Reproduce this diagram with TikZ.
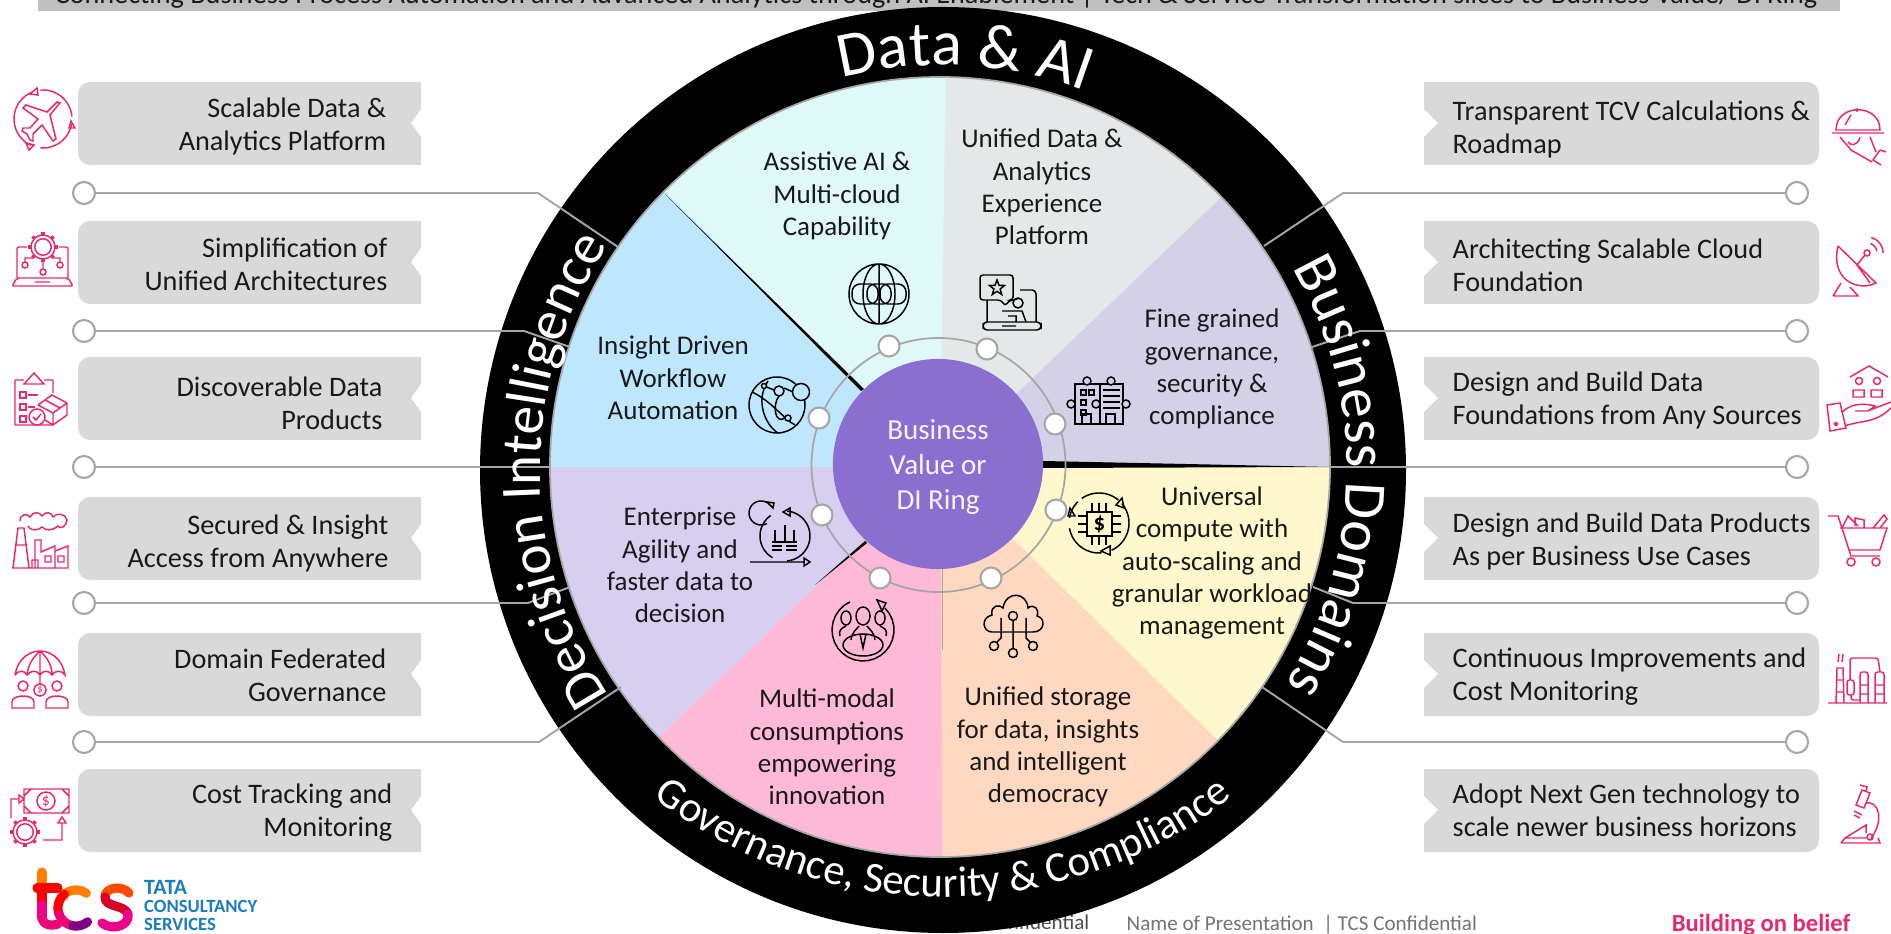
\documentclass[tikz,border=0pt]{standalone}
\usepackage{fontspec}
\setmainfont{Carlito}
\usetikzlibrary{decorations.text}
\definecolor{barGray}{HTML}{BFBFBF}
\definecolor{boxGray}{HTML}{D9D9D9}
\definecolor{lineGray}{HTML}{A6A6A6}
\definecolor{iconPink}{HTML}{E8286E}
\definecolor{hubPurple}{HTML}{8B6FD0}
\definecolor{secCyan}{HTML}{DFF9F9}
\definecolor{secGrey}{HTML}{E4E8E9}
\definecolor{secLav}{HTML}{D4D0E8}
\definecolor{secYellow}{HTML}{FEF8CC}
\definecolor{secPeach}{HTML}{FFD8C2}
\definecolor{secPink}{HTML}{FEB9D6}
\definecolor{secLilac}{HTML}{D8CEF0}
\definecolor{secBlue}{HTML}{BEE6FD}
\definecolor{tcsBlue}{HTML}{1C7CC0}
\newcommand{\boxfont}{\fontsize{8.03}{9.39}\selectfont}
\newcommand{\secfont}{\fontsize{7.68}{9.2}\selectfont}
% arc by centre, radius and two angles
\newcommand{\arcat}[6][icn]{\draw[#1] plot[domain=#5:#6,samples=24] ({#2+#4*cos(\x)},{#3-#4*sin(\x)});}
\newcommand{\gearat}[4][pnk]{%
  \draw[#1] (#2,#3) circle[radius=#4*.55] (#2,#3) circle[radius=#4*.8];
  \foreach \a in {0,45,...,315}
    \draw[#1,line width=1pt] ({#2+#4*.8*cos(\a)},{#3-#4*.8*sin(\a)}) -- ({#2+#4*cos(\a)},{#3-#4*sin(\a)});}

\begin{document}
\begin{tikzpicture}[x=.01cm,y=-.01cm,
 icn/.style = {draw=black,line width=.42pt},
 pnk/.style = {draw=iconPink,line width=.42pt},
 boxtext/.style = {font=\boxfont,text=black!90,inner sep=0pt},
 lefttext/.style = {boxtext,align=right,anchor=east},
 righttext/.style = {boxtext,align=left,anchor=west},
 sectext/.style = {font=\secfont,text=black!90,align=center,inner sep=0pt},
 endpt/.style = {circle,draw=lineGray,line width=.6pt,fill=white,minimum size=2.2mm,inner sep=0pt},
 dot/.style = {circle,draw=lineGray,line width=.6pt,fill=white,minimum size=2.1mm,inner sep=0pt},
 leader/.style = {draw=lineGray,line width=.55pt},
 hubdisc/.style = {circle,fill=hubPurple,text=white!92!hubPurple,minimum size=2.1cm,inner sep=0pt,align=center,
      font=\fontsize{8.25}{9.96}\selectfont},
 ringtext/.style args = {#1/#2}{decorate,decoration={text along path,text align=center,
      text={|\fontsize{#1}{#1}\selectfont\color{white}|#2}}}
                    ]
\useasboundingbox (0,0) rectangle (1891,934);
% top bar and footer
\fill[barGray] (38,0) rectangle (1840,11);
\node(title) [anchor=base west,inner sep=0pt,font=\fontsize{8.02}{9}\selectfont,text=black!90] at (54,4)
  {Connecting Business Process Automation and Advanced Analytics through AI Enablement | Tech \& Service Transformation slices to Business Value/ DI Ring};
\node(footHidden) [anchor=east,inner sep=0pt,font=\fontsize{6}{7}\selectfont,text=black!70] at (1090,922) {TCS Confidential};
\node(footName) [anchor=west,inner sep=0pt,font=\fontsize{6}{7}\selectfont,text=black!55] at (1126,925) {Name of Presentation\ \ | TCS Confidential};
\node(footBelief) [anchor=east,inner sep=0pt,font=\fontsize{7}{8}\selectfont\bfseries,text=iconPink] at (1851,925) {Building on belief};
%
% ring and slices
\coordinate(ring) at (943,470);
\coordinate(pie) at (940,467);
\fill[black] (ring) circle[radius=463];
\coordinate(b0) at (947,0);
\coordinate(b1) at (1276,145);
\coordinate(b2) at (1400,467);
\coordinate(b3) at (1270,792);
\coordinate(b4) at (943,920);
\coordinate(b5) at (610,784);
\coordinate(b6) at (480,467);
\coordinate(b7) at (610,137);
\fill[secGrey] (pie) circle[radius=390];
\begin{scope}
\clip (pie) circle[radius=390];
\foreach \col/\a/\b in {secCyan/b7/b0,secGrey/b0/b1,secLav/b1/b2,secYellow/b2/b3,secPeach/b3/b4,secPink/b4/b5,secLilac/b5/b6,secBlue/b6/b7}
  \fill[\col] (pie) -- (\a) -- (\b) -- cycle;
\end{scope}
\draw[lineGray,line width=.5pt] (pie) circle[radius=390];
\fill[black] (665,194) -- (864,389) -- (861,391) -- cycle;
\fill[black] (1043,461) -- (1043,468) -- (1329,467) -- cycle;
\fill[black] (867,543) -- (865,541) -- (815,585) -- cycle;
\draw[lineGray,line width=.25pt] (942,569) -- (942,650);
%
% leader lines
\foreach \i/\y/\bx/\fx/\fy in {1/193/538/618/247,2/331/524/570/347,3/467/551/551/467,4/603/528/570/587,5/742/539/621/687}{
  \node(lend\i) [endpt] at (84,\y) {};
  \coordinate(lbend\i) at (\bx,\y);
  \coordinate(lfoot\i) at (\fx,\fy);
  \draw[leader] (lend\i) -- (lbend\i) -- (lfoot\i);
}
\foreach \i/\y/\bx/\fx/\fy in {1/193/1343/1264/246,2/331/1360/1312/347,3/467/1329/1329/467,4/603/1353/1313/587,5/742/1343/1262/687}{
  \node(rend\i) [endpt] at (1797,\y) {};
  \coordinate(rbend\i) at (\bx,\y);
  \coordinate(rfoot\i) at (\fx,\fy);
  \draw[leader] (rend\i) -- (rbend\i) -- (rfoot\i);
}
%
% ring labels
\path[ringtext=18.2/Data {\&} AI] plot[domain=147:27,samples=60] ({943+405*cos(\x)},{470-405*sin(\x)});
\path[ringtext=17.1/Business Domains] plot[domain=64:-66,samples=60] ({943+404*cos(\x)},{470-404*sin(\x)});
\path[ringtext=16.2/Decision Intelligence] plot[domain=245:115,samples=60] ({943+403*cos(\x)},{470-403*sin(\x)});
\path[ringtext=12.2/{Governance, Security {\&} Compliance}] plot[domain=220:320,samples=60] ({943+470*cos(\x)},{427-470*sin(\x)});
%
% hub
\draw[lineGray,line width=.5pt] (938.5,465) circle[radius=127];
\node(hub) [hubdisc] at (938,464) {};
\node(hubText) [font=\fontsize{8.25}{9.96}\selectfont,text=white!92!hubPurple,align=center,inner sep=0pt] at (938,467) {Business\\Value or\\DI Ring};
\foreach \i/\x/\y in {1/889/346,2/987/349,3/1055/424,4/1056/510,5/991/578,6/880/578,7/822/515,8/819/418}
  \node(hubdot\i) [dot] at (\x,\y) {};
%
% slice labels
\node(secAssist) [sectext] at (837,196) {Assistive AI \&\\Multi-cloud\\Capability};
\node(secUnified) [sectext] at (1042,187) {Unified Data \&\\Analytics\\Experience\\Platform};
\node(secFine) [sectext] at (1212,369) {Fine grained\\governance,\\security \&\\compliance};
\node(secCompute) [sectext] at (1212,563) {Universal\\compute with\\auto-scaling and\\granular workload\\management};
\node(secStorage) [sectext] at (1048,747) {Unified storage\\for data, insights\\and intelligent\\democracy};
\node(secModal) [sectext] at (827,747) {Multi-modal\\consumptions\\empowering\\innovation};
\node(secAgile) [sectext] at (680,565) {Enterprise\\Agility and\\faster data to\\decision};
\node(secInsight) [sectext] at (673,378) {Insight Driven\\Workflow\\Automation};
%
% grey boxes
\foreach \y in {82,221,357,497,633,769}{
  \fill[boxGray] (421,\y) [rounded corners=1.2mm] -- (78,\y) -- (78,\y+83) [sharp corners] -- (421,\y+83) -- (421,\y+55) -- (411,\y+41) -- (421,\y+27) -- cycle;
  \fill[boxGray] (1424,\y) [rounded corners=1.2mm] -- (1819,\y) -- (1819,\y+83) [sharp corners] -- (1424,\y+83) -- (1424,\y+55) -- (1438,\y+41) -- (1424,\y+27) -- cycle;
}
\node(boxL1) [lefttext] at (387,126) {Scalable Data \&\\Analytics Platform};
\node(boxL2) [lefttext] at (388,264) {Simplification of\\Unified Architectures};
\node(boxL3) [lefttext] at (383,403) {Discoverable Data\\Products};
\node(boxL4) [lefttext] at (389,543) {Secured \& Insight\\Access from Anywhere};
\node(boxL5) [lefttext] at (387,675) {Domain Federated\\Governance};
\node(boxL6) [lefttext] at (393,813) {Cost Tracking and\\Monitoring};
\node(boxR1) [righttext] at (1452,129) {Transparent TCV Calculations \&\\Roadmap};
\node(boxR2) [righttext] at (1452,265) {Architecting Scalable Cloud\\Foundation};
\node(boxR3) [righttext] at (1452,400) {Design and Build Data\\Foundations from Any Sources};
\node(boxR4) [righttext] at (1452,541) {Design and Build Data Products\\As per Business Use Cases};
\node(boxR5) [righttext] at (1452,677) {Continuous Improvements and\\Cost Monitoring};
\node(boxR6) [righttext] at (1452,810) {Adopt Next Gen technology to\\scale newer business horizons};
%
% black icons
\draw[icn] (879,294) circle[radius=30] (879,294) ellipse[x radius=16,y radius=30] (879,264) -- (879,324);
\draw[icn,rounded corners=.8mm] (852,284) rectangle (878,304) (880,284) rectangle (906,304) (867,284) rectangle (891,304);
\draw[icn,rounded corners=.4mm] (987,298) -- (987,322) (1020,290) -- (1036,290) -- (1036,322) (983,322) -- (1041,322) -- (1041,330) -- (983,330) -- cycle;
\draw[icn,rounded corners=.3mm,fill=secGrey] (1001,300) -- (980,300) -- (980,275) -- (1013,275) -- (1013,300) -- (1010,300) -- (1005,306) -- cycle;
\draw[icn] (997,280) -- (999,285.3) -- (1004.6,285.5) -- (1000.1,289) -- (1001.7,294.5) -- (997,291.3) -- (992.3,294.5) -- (993.9,289) -- (989.4,285.5) -- (995,285.3) -- cycle;
\draw[icn] (1018,303) circle[radius=5] (1002,311) -- (1016,311) -- (1022,311) -- (1026,322) (1008,316) -- (1016,316) -- (1016,322) (1002,326) -- (1016,326);
\draw[icn] (1075,384) rectangle (1100,424) (1100,384) rectangle (1123,424) (1082,424) -- (1082,414) -- (1091,414) -- (1091,424) (1106,424) -- (1106,414) -- (1115,414) -- (1115,424);
\foreach \x/\y in {1081/390,1089/390,1081/400,1081/410}
  \draw[icn] (\x,\y) rectangle ++(5,5);
\foreach \y in {390,396,402,408}
  \draw[icn] (1103,\y) -- (1120,\y);
\draw[icn,fill=secLav] (1087,381) circle[radius=4] (1111,381) circle[radius=4] (1071,404) circle[radius=4] (1126,404) circle[radius=4] (1096,404) circle[radius=4];
\draw[icn] (777,405) circle[radius=28];
\draw[icn] (752,392) .. controls (770,400) and (785,420) .. (795,425) (768,381) .. controls (755,400) and (765,425) .. (778,433) (779,396) .. controls (772,405) and (775,425) .. (785,418) (764,386) -- (774,390) (784,388) -- (793,392);
\draw[icn,fill=secBlue] (801,392) circle[radius=8.5] (779,391) circle[radius=5] (788,418) circle[radius=3] (764,386) circle[radius=2.5];
\arcat{761}{513}{12}{-60}{-300}
\draw[icn] (767,502) -- (773,508) -- (774,503) -- cycle;
\arcat{785}{536}{25}{240}{125}
\arcat{785}{536}{25}{85}{-85}
\draw[icn] (783,512) -- (790,508) -- (790,516) -- cycle (750,562) -- (804,562) (804,558) -- (810,562) -- (804,566) -- cycle;
\draw[icn] (775,542) -- (775,530) (785,542) -- (785,525) (794,542) -- (794,530) (772,542) -- (797,542) (772,546) -- (782,546) (786,546) -- (797,546) (772,550) -- (782,550) (786,550) -- (797,550);
\arcat{1099}{523}{30}{125}{50}
\arcat{1099}{523}{30}{40}{-65}
\arcat{1099}{523}{30}{-85}{-170}
\arcat{1099}{523}{30}{170}{135}
\draw[icn] (1122,498) -- (1124,508) -- (1116,505) -- cycle (1101,551) -- (1110,546) -- (1110,555) -- cycle (1070,508) -- (1075,516) -- (1068,516) -- cycle;
\draw[icn] (1087,512) rectangle (1112,536);
\foreach \p in {1092,1099,1106}
  \draw[icn] (\p,503) -- (\p,512) (\p,536) -- (\p,545);
\foreach \p in {516,524,532}
  \draw[icn] (1078,\p) -- (1087,\p) (1112,\p) -- (1121,\p);
\node(chipDollar) [inner sep=0pt,font=\fontsize{6.5}{7}\selectfont\bfseries] at (1099.5,524) {\$};
\arcat{863}{630}{31}{115}{405}
\draw[icn] (877,600) -- (886,603) -- (882,611) -- cycle;
\draw[icn] (863,645) ellipse[x radius=20,y radius=11] (863,616) ellipse[x radius=7,y radius=9] (846,618) ellipse[x radius=5,y radius=7] (880,618) ellipse[x radius=5,y radius=7];
\draw[icn] (851,640) .. controls (852,632) and (856,630) .. (859,626) (875,640) .. controls (874,632) and (870,630) .. (867,626) (860,634) -- (863,648) -- (866,634) (840,636) .. controls (838,630) and (842,628) .. (846,626) (886,636) .. controls (888,630) and (884,628) .. (880,626);
\draw[icn] (992,632) .. controls (983,632) and (980,618) .. (992,615) .. controls (990,605) and (1000,604) .. (1003,608) .. controls (1006,590) and (1027,592) .. (1028,608) .. controls (1034,603) and (1040,610) .. (1037,616) .. controls (1046,618) and (1045,632) .. (1033,632) -- cycle;
\draw[icn] (1013,620.5) -- (1013,648.5) (1001,618) -- (1001,638) -- (997,642) (1026,618) -- (1026,638) -- (1030,642);
\draw[icn,fill=secPeach] (1013,616) circle[radius=4.5] (994,646) circle[radius=4.5] (1013,653) circle[radius=4.5] (1033,646) circle[radius=4.5];
%
% pink icons, left
\arcat[pnk]{43}{119}{29}{95}{5}
\arcat[pnk]{43}{119}{29}{-10}{-95}
\arcat[pnk]{43}{119}{29}{-115}{-245}
\draw[pnk] (30,94) -- (37,88) -- (38,95) -- cycle (69,128) -- (75,128) -- (71,121) -- cycle (26,143) -- (34,145) -- (29,150) -- cycle;
\draw[pnk] (60,103) -- (50,115) -- (56,139) -- (53,141) -- (42,125) -- (33,134) -- (33,141) -- (30,140) -- (27,134) -- (22,131) -- (23,128) -- (30,128) -- (38,119) -- (23,108) -- (26,105) -- (47,112) -- (57,102) -- cycle;
\gearat{43}{247}{15}
\draw[pnk,rounded corners=.2mm] (17,278) -- (17,247) -- (27,247) (59,247) -- (68,247) -- (68,278) (12,286) -- (17,278) -- (68,278) -- (73,286) -- cycle (35,282) -- (50,282);
\draw[pnk] (43,262) -- (43,269) (43,272) circle[radius=3] (33,258) -- (25,258) -- (25,262) (25,265) circle[radius=3] (53,258) -- (60,258) -- (60,262) (60,265) circle[radius=3];
\draw[pnk] (53,380) -- (53,393) (15,380) -- (15,425) -- (53,425) (15,380) -- (24,380) (44,380) -- (53,380) (24,384) -- (34,373) -- (44,384) -- cycle;
\draw[pnk] (20,392) rectangle ++(6,6) (20,404) rectangle ++(6,6) (20,416) rectangle ++(6,6) (28,395) -- (38,395) (28,407) -- (35,407);
\draw[pnk] (38,405) -- (52,395) -- (67,403) -- (67,415) -- (53,425) -- (45,420) (38,405) -- (53,413) -- (67,403) (53,413) -- (53,425) (45,400) -- (60,408);
\draw[pnk,fill=white] (37,417) circle[radius=8];
\draw[pnk] (33,417) -- (36,420) -- (41,414);
\draw[pnk] (20,521) .. controls (20,514) and (27,513) .. (30,517) .. controls (33,511) and (40,512) .. (42,516) .. controls (45,511) and (52,512) .. (53,517) .. controls (57,512) and (66,514) .. (67,520) .. controls (67,526) and (60,530) .. (58,526) .. controls (52,531) and (46,531) .. (42,527) .. controls (38,531) and (30,531) .. (28,526);
\draw[pnk] (12,568) -- (68,568) -- (68,546) -- (55,551) -- (55,546) -- (41,552) -- (41,540) -- (35,540) -- (35,568) (13,568) -- (18,528) -- (24,528) -- (29,568) (16,545) -- (26,545) (32,568) -- (32,560) -- (38,560) -- (38,568) (45,556) rectangle ++(6,6) (58,556) rectangle ++(6,6) (55,551) -- (55,568);
\draw[pnk] (15,675) .. controls (18,658) and (30,651) .. (40,651) .. controls (50,651) and (62,658) .. (65,675) .. controls (62,670) and (55,670) .. (52,675) .. controls (49,670) and (43,670) .. (40,675) .. controls (37,670) and (31,670) .. (27,675) .. controls (25,670) and (18,670) .. (15,675) (40,651) -- (40,684) (40,651) .. controls (33,657) and (28,665) .. (27,675) (40,651) .. controls (47,657) and (52,665) .. (52,675);
\draw[pnk] (40,690) circle[radius=6] (23,686) circle[radius=5] (57,686) circle[radius=5] (12,708) -- (12,702) .. controls (12,694) and (34,694) .. (34,702) -- (34,708) -- cycle (46,708) -- (46,702) .. controls (46,694) and (68,694) .. (68,702) -- (68,708) -- cycle;
\node(umbDollar) [inner sep=0pt,text=iconPink,font=\fontsize{3}{4}\selectfont] at (40,690) {\$};
\draw[pnk] (24,789) rectangle (69,813) (46,801) circle[radius=9] (24,796) -- (31,789) (62,789) -- (69,796) (24,806) -- (31,813) (62,813) -- (69,806) (11,818) -- (11,799) -- (19,799) (19,795) -- (24,799) -- (19,803) -- cycle (43,840) -- (62,840) -- (62,823) (58,823) -- (62,817) -- (66,823) -- cycle;
\node(moneyDollar) [inner sep=0pt,text=iconPink,font=\fontsize{4.5}{5}\selectfont] at (46,801) {\$};
\gearat{25}{832}{15}
%
% pink icons, right
\draw[pnk] (1836,130) .. controls (1836,103) and (1880,103) .. (1880,130) -- cycle (1832,133) -- (1884,133) (1857,110) circle[radius=1] (1845,125) -- (1851,115) (1840,137) -- (1851,150) -- (1872,162) (1860,137) .. controls (1858,146) and (1850,146) .. (1848,142) (1870,137) -- (1876,152) (1880,150) -- (1873,160) -- (1881,165) (1880,150) -- (1886,152);
\draw[pnk] (1838,246) -- (1876,283) .. controls (1858,292) and (1830,280) .. (1838,246) (1857,265) -- (1865,255) (1867,253) circle[radius=3] (1833,296) -- (1841,283) (1850,287) -- (1858,296) -- (1833,296) (1857,265) -- (1870,283);
\arcat[pnk]{1867}{253}{10}{10}{70}
\arcat[pnk]{1867}{253}{16}{0}{75}
\draw[pnk] (1850,377) -- (1869,366) -- (1888,377) (1859,381) circle[radius=3.5] (1877,381) circle[radius=3.5] (1853,397) -- (1853,390) -- (1864,390) -- (1864,397) -- cycle (1871,397) -- (1871,390) -- (1882,390) -- (1882,397) -- cycle (1827,405) -- (1840,403) -- (1846,428) -- (1830,431) -- cycle (1836,424) circle[radius=1.5];
\draw[pnk] (1842,412) .. controls (1850,405) and (1860,402) .. (1875,406) -- (1868,411) -- (1855,411) (1870,410) -- (1891,402) (1845,426) .. controls (1860,420) and (1875,424) .. (1891,408);
\draw[pnk] (1828,516) -- (1838,516) -- (1851,556) -- (1880,556) (1840,528) -- (1887,528) -- (1880,550) -- (1849,550) (1851,562) circle[radius=4] (1876,562) circle[radius=4] (1842,528) -- (1848,516) -- (1858,526) (1855,526) -- (1855,518) -- (1864,520) -- (1864,528) (1873,528) -- (1884,515) -- (1887,519) -- (1880,528);
\draw[pnk] (1828,703) -- (1887,703) (1836,703) -- (1837,668) -- (1843,668) -- (1844,703) (1837,680) -- (1843,680) (1836,692) -- (1844,692) (1838,662) -- (1839,654) (1842,662) -- (1843,654);
\draw[pnk,rounded corners=.25mm] (1860,703) -- (1860,672) -- (1868,672) -- (1868,703) (1875,703) -- (1875,672) -- (1884,672) -- (1884,703) (1847,680) rectangle (1854,695) (1850,680) -- (1850,658) -- (1878,658) -- (1880,672) (1860,685) -- (1868,685) (1860,694) -- (1868,694) (1875,685) -- (1884,685) (1875,694) -- (1884,694) (1851,695) -- (1851,700) -- (1860,700);
\draw[pnk] (1841,843) -- (1880,843) -- (1878,838) (1871,838) .. controls (1885,820) and (1878,800) .. (1866,803) (1856,805) -- (1862,790) -- (1870,793) -- (1864,808) -- cycle (1860,785) -- (1867,787) -- (1866,791) (1854,811) -- (1862,815) (1845,838) -- (1866,825) -- (1866,833) (1841,843) -- (1845,838) -- (1866,838) (1870,837) circle[radius=3] (1854,815) -- (1860,818);
%
% logo
\foreach \col/\pa/\pb in {orange/872/888,red/888/905,magenta/905/918}
  \draw[\col,line width=2.6pt,line cap=round] (42,\pa) -- (42,\pb);
\draw[red,line width=2.6pt,line cap=round] (37,888) -- (58,888);
\draw[magenta!80!red,line width=2.6pt,line cap=round] (42,916) .. controls (42,926) and (52,926) .. (58,924);
\arcat[orange,line width=2.6pt,line cap=round]{76}{908}{18}{55}{130}
\arcat[red,line width=2.6pt,line cap=round]{76}{908}{18}{130}{200}
\arcat[magenta!80!red,line width=2.6pt,line cap=round]{76}{908}{18}{200}{260}
\arcat[violet,line width=2.6pt,line cap=round]{76}{908}{18}{260}{310}
\draw[orange!60!red,line width=2.6pt,line cap=round] (129,893) .. controls (122,885) and (105,887) .. (105,897);
\draw[red!70!violet,line width=2.6pt,line cap=round] (105,897) .. controls (105,908) and (124,904) .. (128,914);
\draw[magenta,line width=2.6pt,line cap=round] (128,914) .. controls (130,926) and (112,931) .. (102,923);
\node(logoTata) [anchor=base west,inner sep=0pt,text=tcsBlue,font=\fontsize{6.2}{7}\selectfont\bfseries] at (143.5,894) {TATA};
\node(logoCons) [anchor=base west,inner sep=0pt,text=tcsBlue,font=\fontsize{5.3}{6}\selectfont\bfseries] at (143.5,912) {CONSULTANCY};
\node(logoServ) [anchor=base west,inner sep=0pt,text=tcsBlue,font=\fontsize{5.3}{6}\selectfont\bfseries] at (143.5,930) {SERVICES};
\end{tikzpicture}
\end{document}
